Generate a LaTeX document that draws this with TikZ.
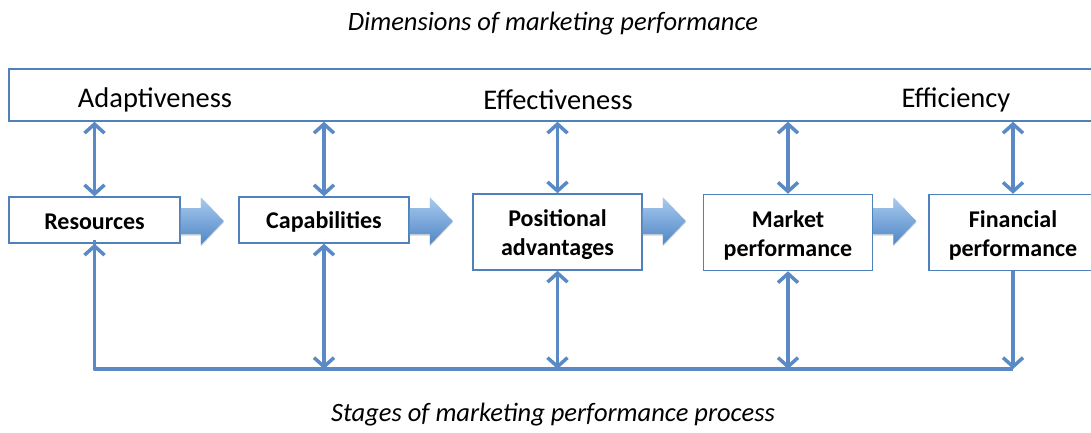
\documentclass[tikz,border=0pt]{standalone}
\usepackage{fontspec}
\setmainfont{Carlito}
\usetikzlibrary{arrows.meta}
\definecolor{lineblue}{HTML}{5A8AC6}
\definecolor{boxblue}{HTML}{4F81BD}
\definecolor{arrtop}{HTML}{A9CBEF}
\definecolor{arrbot}{HTML}{4F86C6}
\tikzset{
  stagebox/.style={draw=boxblue, line width=1.5pt, fill=white, inner sep=0pt},
  stagetext/.style={font=\fontsize{24}{29}\selectfont\bfseries, align=center, inner sep=0pt, yshift=-3pt},
  link/.style={draw=lineblue, line width=3.5pt, {Straight Barb[length=9pt,width=20pt,line width=3.5pt]}-{Straight Barb[length=9pt,width=20pt,line width=3.5pt]}},
  linkone/.style={draw=lineblue, line width=3.5pt, -{Straight Barb[length=9pt,width=20pt,line width=3.5pt]}},
  dimlabel/.style={font=\fontsize{28.5}{32}\selectfont, inner sep=0pt},
  caption/.style={font=\fontsize{26.5}{30}\selectfont\itshape, inner sep=0pt},
  blockarrow/.style={top color=arrtop, bottom color=arrbot, draw=none}
}
\newcommand{\blockarr}[1]{%
  \fill[black!18, xshift=1.5pt, yshift=-1.5pt] #1 ++(0,-13) -- ++(20,0) -- ++(0,-11) -- ++(23,24) -- ++(-23,24) -- ++(0,-11) -- ++(-20,0) -- cycle;
  \path[blockarrow] #1 ++(0,-13) -- ++(20,0) -- ++(0,-11) -- ++(23,24) -- ++(-23,24) -- ++(0,-11) -- ++(-20,0) -- cycle;
}
\begin{document}
\begin{tikzpicture}[x=1pt,y=-1pt]
\useasboundingbox (0,0) rectangle (1091,432);
\clip (0,0) rectangle (1091,432);
\fill[white] (0,0) rectangle (1091,432);

% captions
\node[caption] (top) at (553,24) {Dimensions of marketing performance};
\node[caption] (bottom) at (553,415) {Stages of marketing performance process};

% dimensions box
\node[draw=boxblue, line width=1.5pt, minimum width=1092pt, minimum height=52pt, inner sep=0pt] (dims) at (555,95) {};
\node[dimlabel] (adapt) at (155,99.5) {Adaptiveness};
\node[dimlabel] (effect) at (558,99.5) {Effectiveness};
\node[dimlabel] (effic) at (956,99.5) {Efficiency};

% stage boxes
\node[stagebox, minimum width=171pt, minimum height=46pt, label={[stagetext, yshift=1pt]center:Resources}] (res) at (94.5,220) {};
\node[stagebox, minimum width=170pt, minimum height=46pt, label={[stagetext, yshift=1pt]center:Capabilities}] (cap) at (324,220) {};
\node[stagebox, minimum width=169pt, minimum height=76pt, label={[stagetext]center:{Positional\\advantages}}] (pos) at (557.5,232) {};
\node[stagebox, minimum width=169pt, minimum height=76pt, label={[stagetext]center:{Market\\performance}}] (mkt) at (788,232.5) {};
\node[stagebox, minimum width=168pt, minimum height=76pt, label={[stagetext]center:{Financial\\performance}}] (fin) at (1013,232.5) {};

% block arrows
\blockarr{(res.east |- 0,221)}
\blockarr{(cap.east |- 0,221)}
\blockarr{(pos.east |- 0,221)}
\blockarr{(mkt.east |- 0,221)}

% links to dimensions
\foreach \n in {res,cap,pos,mkt,fin}{
  \draw[link] (dims.south -| \n.north) -- (\n.north);
}

% bottom base line
\coordinate (baseL) at (res.south |- 0,369);
\coordinate (baseR) at (fin.south |- 0,369);
\draw[draw=lineblue, line width=3.5pt, line join=round] (baseR) -- (baseL) -- ([yshift=4pt]res.south);
\draw[linkone] (baseL) -- (res.south);
\draw[linkone] (fin.south) -- (baseR);
\foreach \n in {cap,pos,mkt}{
  \draw[link] (\n.south) -- (\n.south |- baseL);
}
\end{tikzpicture}
\end{document}
